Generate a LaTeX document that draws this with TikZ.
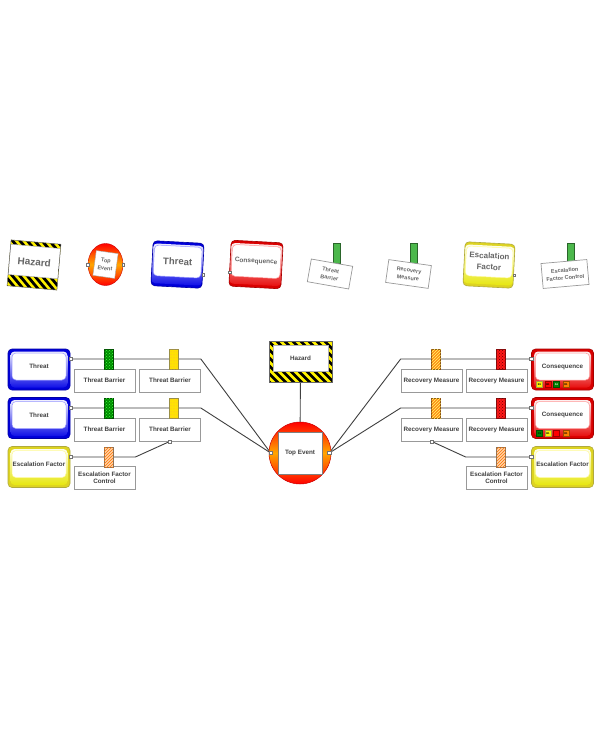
\documentclass[tikz,border=0pt]{standalone}
\usepackage{fontspec}
\setmainfont{Liberation Sans}
\usetikzlibrary{positioning,backgrounds,patterns,shapes.geometric}
\newcommand{\uptext}[1]{\raisebox{3pt}[\height][\depth]{#1}}
\newcommand{\twoline}[2]{\begin{tabular}{@{}c@{}}#1\\#2\end{tabular}}
\colorlet{keygreen}{green!60!black!70}
\colorlet{tabgreen}{green!55!black}
\colorlet{tabyellow}{yellow!85!orange}
\colorlet{taborange}{orange!90}
\colorlet{tabred}{red!90}
\colorlet{tabstripe}{orange!35}
\colorlet{badgegreen}{green!50!black}
\tikzset{
  link/.style={black!75,line width=0.9pt},
  lbl/.style={font=\fontsize{6.3}{7.4}\selectfont\bfseries,text=black!75,align=center},
  keytxt/.style={font=\fontsize{#1}{\fpeval{1.4*#1}}\selectfont\bfseries,text=black!60,align=center},
  port/.style={draw=black!55,fill=white,minimum size=3.2pt,inner sep=0pt,line width=0.4pt},
  ctrlbox/.style={draw=black!40,fill=white,line width=0.7pt,minimum width=61pt,
    minimum height=23pt,inner sep=1pt,lbl},
  tabbar/.style={draw=#1!55!black,fill=#1,minimum width=9pt,minimum height=20pt,
    inner sep=0pt,line width=0.5pt},
  greentab/.style={tabbar=tabgreen,postaction={pattern=crosshatch dots,pattern color=green!75}},
  yellowtab/.style={tabbar=tabyellow,postaction={pattern=dots,pattern color=orange!70}},
  orangetab/.style={tabbar=taborange,postaction={pattern=north east lines,pattern color=yellow!60}},
  redtab/.style={tabbar=tabred,postaction={pattern=crosshatch dots,pattern color=red!40!black}},
  stripetab/.style={tabbar=tabstripe,postaction={pattern=north east lines,pattern color=orange!90!red}},
  riskbox/.style={draw=#1!65!black,fill=#1!85!black,rounded corners=4pt,line width=0.6pt,
    minimum width=62pt,minimum height=41pt,inner sep=0pt,lbl,
    path picture={
      \shade[top color=white,bottom color=#1!90!black]
        ([shift={(2.5pt,-2.5pt)}]path picture bounding box.north west) rectangle
        ([shift={(-2.5pt,2.5pt)}]path picture bounding box.south east);
      \draw[#1!40,fill=white,line width=0.5pt]
        ([shift={(4pt,-4pt)}]path picture bounding box.north west) rectangle
        ([shift={(-4pt,10pt)}]path picture bounding box.south east);
    }},
  hazardbox/.style={draw=black!60,fill=yellow,line width=0.5pt,minimum width=63pt,
    minimum height=41pt,inner sep=0pt,lbl,
    path picture={
      \foreach \k in {-80,-72,...,80}
        \draw[black,line width=2.8pt]
          ([xshift=\k pt]path picture bounding box.north) -- ++(60pt,-60pt);
      \draw[black!30,fill=white,line width=0.5pt]
        ([shift={(4pt,-4pt)}]path picture bounding box.north west) rectangle
        ([shift={(-4pt,11pt)}]path picture bounding box.south east);
    }},
  topevent/.style={circle,minimum size=62pt,inner sep=0pt,draw=red!80!black,
    line width=0.5pt,top color=red,bottom color=red,middle color=orange!70!yellow},
  badge/.style={draw=#1!60!black,fill=#1,minimum size=6pt,inner sep=0pt,
    font=\fontsize{2.6}{3}\selectfont\bfseries},
}
\begin{document}
\begin{tikzpicture}[x=1pt,y=-1pt]
  \begin{scope}[on background layer]
    \fill[white] (0,0) rectangle (600,730);
  \end{scope}
  \useasboundingbox (0,0) rectangle (600,730);

  % key row
  \node[hazardbox,minimum width=50pt,minimum height=46pt,rotate=-5,keytxt=10] (keyHazard) at (34,265) {\uptext{Hazard}};
  \node[ellipse,minimum width=35pt,minimum height=42pt,inner sep=0pt,draw=red!80!black,
    top color=red,bottom color=red,middle color=orange!70!yellow] (keyTop) at (105.5,264.5) {};
  \node[draw=black!35,fill=white,minimum width=22pt,minimum height=25pt,inner sep=0pt,
    rotate=-8,keytxt=5.5] (keyTopBox) at (keyTop) {Top\\Event};
  \node[port,minimum size=2.5pt] (keyTopL) at (keyTop.west) {};
  \node[port,minimum size=2.5pt] (keyTopR) at (keyTop.east) {};
  \node[riskbox=blue,minimum width=51pt,minimum height=45pt,rotate=-3,keytxt=9.5] (keyThreat) at (177.5,264.5) {\uptext{Threat}};
  \node[port,minimum size=2.5pt] (keyThreatP) at ([yshift=-9pt]keyThreat.east) {};
  \node[riskbox=red,minimum width=52pt,minimum height=46pt,rotate=-3,keytxt=6.5] (keyCons) at (256,264.5) {\uptext{Consequence}};
  \node[port,minimum size=2.5pt] (keyConsP) at ([yshift=-9pt]keyCons.west) {};
  \node[tabbar=keygreen,minimum width=7pt] (keyTbTab) at (337,253) {};
  \node[ctrlbox,minimum width=42pt,minimum height=23pt,rotate=-10,keytxt=5.5] (keyTb) at (330,274) {Threat\\Barrier};
  \node[tabbar=keygreen,minimum width=7pt] (keyRmTab) at (414,253) {};
  \node[ctrlbox,minimum width=43pt,minimum height=23pt,rotate=-8,keytxt=5.5] (keyRm) at (408.5,274) {Recovery\\Measure};
  \node[riskbox=yellow,minimum width=50pt,minimum height=44pt,rotate=-3,keytxt=8] (keyEsc) at (489,265) {\uptext{\twoline{Escalation}{Factor}}};
  \node[port,minimum size=2.5pt] (keyEscP) at ([yshift=-9pt]keyEsc.east) {};
  \node[tabbar=keygreen,minimum width=7pt] (keyEfcTab) at (571,253) {};
  \node[ctrlbox,minimum width=46pt,minimum height=25pt,rotate=5,keytxt=5.5] (keyEfc) at (565,274) {Escalation\\Factor Control};

  % left side
  \node[riskbox=blue] (threatA) at (39,369.5) {\uptext{Threat}};
  \node[riskbox=blue] (threatB) at (39,418) {\uptext{Threat}};
  \node[riskbox=yellow] (escL) at (39,467) {\uptext{Escalation Factor}};
  \node[ctrlbox] (tbA1) at (104.5,380.5) {Threat Barrier};
  \node[ctrlbox] (tbA2) at (170,380.5) {Threat Barrier};
  \node[ctrlbox] (tbB1) at (104.5,429.5) {Threat Barrier};
  \node[ctrlbox] (tbB2) at (170,429.5) {Threat Barrier};
  \node[ctrlbox] (efcL) at (104.5,478) {Escalation Factor\\Control};
  \node[greentab] (tabA1) at (108.5,359) {};
  \node[yellowtab] (tabA2) at (174,359) {};
  \node[greentab] (tabB1) at (108.5,408) {};
  \node[yellowtab] (tabB2) at (174,408) {};
  \node[stripetab] (tabL) at (108.5,457) {};

  % centre
  \node[hazardbox] (hazard) at (300.5,361.5) {\uptext{Hazard}};
  \node[topevent] (topEvt) at (300,453) {};
  \node[ctrlbox,minimum width=44pt,minimum height=42pt,draw=black!50] (topBox) at (topEvt) {Top Event};

  % right side
  \node[riskbox=red] (consA) at (562.5,369.5) {\uptext{Consequence}};
  \node[riskbox=red] (consB) at (562.5,418) {\uptext{Consequence}};
  \node[riskbox=yellow] (escR) at (562.5,467) {\uptext{Escalation Factor}};
  \node[ctrlbox] (rmA1) at (431.5,380.5) {Recovery Measure};
  \node[ctrlbox] (rmA2) at (496.5,380.5) {Recovery Measure};
  \node[ctrlbox] (rmB1) at (431.5,429.5) {Recovery Measure};
  \node[ctrlbox] (rmB2) at (496.5,429.5) {Recovery Measure};
  \node[ctrlbox] (efcR) at (496.5,478) {Escalation Factor\\Control};
  \node[orangetab] (tabA3) at (436,359) {};
  \node[redtab] (tabA4) at (501,359) {};
  \node[orangetab] (tabB3) at (436,408) {};
  \node[redtab] (tabB4) at (501,408) {};
  \node[stripetab] (tabR) at (501,457) {};

  % risk badges
  \node[badge=yellow] (bA1) at (539.5,384.5) {B1};
  \node[badge=red] (bA2) at (548,384.5) {B1};
  \node[badge=badgegreen,text=white] (bA3) at (556.5,384.5) {A1};
  \node[badge=orange] (bA4) at (566,384.5) {D1};
  \node[badge=badgegreen] (bB1) at (539.5,433.5) {C1};
  \node[badge=yellow] (bB2) at (548,433.5) {B1};
  \node[badge=red] (bB3) at (556.5,433.5) {};
  \node[badge=orange] (bB4) at (566,433.5) {D1};

  % ports
  \node[port] (pThA) at (threatA.east |- tabA1) {};
  \node[port] (pThB) at (threatB.east |- tabB1) {};
  \node[port] (pEfL) at (escL.east |- tabL) {};
  \node[port] (pTbD) at (tbB2.south) {};
  \node[port] (pTeL) at ([xshift=2pt]topEvt.west) {};
  \node[port] (pTeR) at ([xshift=-2pt]topEvt.east) {};
  \node[port] (pCoA) at (consA.west |- tabA3) {};
  \node[port] (pCoB) at (consB.west |- tabB3) {};
  \node[port] (pEfR) at (escR.west |- tabR) {};
  \node[port] (pRmD) at (rmB1.south) {};

  \coordinate (bendA) at (tbA2.east |- tabA2);
  \coordinate (bendB) at (tbB2.east |- tabB2);
  \coordinate (bendC) at (efcL.east |- tabL);
  \coordinate (bendD) at (rmA1.west |- tabA3);
  \coordinate (bendE) at (rmB1.west |- tabB3);
  \coordinate (bendF) at (efcR.west |- tabR);

  \begin{scope}[on background layer]
    \draw[link] (pThA) -- (bendA) -- (pTeL);
    \draw[link] (pThB) -- (bendB) -- (pTeL);
    \draw[link] (pEfL) -- (bendC) -- (pTbD);
    \draw[link] (pCoA) -- (bendD) -- (pTeR);
    \draw[link] (pCoB) -- (bendE) -- (pTeR);
    \draw[link] (pEfR) -- (bendF) -- (pRmD);
    \draw[link] (hazard) -- (topEvt);
  \end{scope}
\end{tikzpicture}
\end{document}
